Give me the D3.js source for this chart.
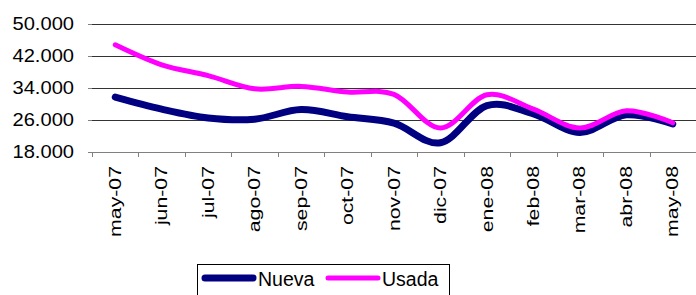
<!DOCTYPE html>
<html>
<head>
<meta charset="utf-8">
<script src="https://cdn.jsdelivr.net/npm/d3@7"></script>
<style>
  body { margin: 0; background: #fff; }
  text { font-family: "Liberation Sans", Arial, sans-serif; fill: #000; }
</style>
</head>
<body>
<svg id="chart" width="696" height="295"></svg>
<script>
// months on the x axis
var months = ["may-07", "jun-07", "jul-07", "ago-07", "sep-07", "oct-07", "nov-07",
              "dic-07", "ene-08", "feb-08", "mar-08", "abr-08", "may-08"];
// values
var nueva = [31700, 28700, 26500, 26200, 28600, 26800, 25200, 20300, 29600, 27500, 22900, 27300, 25000];
var usada = [44800, 39800, 37100, 33800, 34400, 33000, 32400, 24000, 32300, 28700, 24000, 28300, 25300];
var yTicks = [18000, 26000, 34000, 42000, 50000];

var svg = d3.select("#chart");
var plotLeft = 92, plotRight = 696, plotTop = 24, plotBottom = 152;

var x = d3.scaleBand().domain(months).range([plotLeft, plotRight]).padding(0);
var y = d3.scaleLinear().domain([18000, 50000]).range([plotBottom, plotTop]);

var fmt = function (v) { return d3.format(",")(v).replace(/,/g, "."); };

// gridlines + little left ticks
yTicks.forEach(function (t) {
    if (t > 18000) {
        svg.append("line")
            .attr("x1", plotLeft).attr("x2", plotRight)
            .attr("y1", Math.round(y(t)) + 0.5).attr("y2", Math.round(y(t)) + 0.5)
            .attr("stroke", "#333").attr("stroke-width", 1);
    }
    svg.append("line")
        .attr("x1", plotLeft - 4).attr("x2", plotLeft)
        .attr("y1", Math.round(y(t)) + 0.5).attr("y2", Math.round(y(t)) + 0.5)
        .attr("stroke", "#808080");
    svg.append("text")
        .attr("transform", "translate(74," + y(t) + ") scale(1.15,1)")
        .attr("text-anchor", "end")
        .attr("dy", "0.36em")
        .style("font-size", "17.5px")
        .text(fmt(t));
});

// x axis
svg.append("line")
    .attr("x1", plotLeft).attr("x2", plotRight)
    .attr("y1", plotBottom + 0.5).attr("y2", plotBottom + 0.5)
    .attr("stroke", "#808080");
months.forEach(function (m, i) {
    var bx = Math.round(x(m)) + 0.5;
    svg.append("line")
        .attr("x1", bx).attr("x2", bx)
        .attr("y1", plotBottom).attr("y2", plotBottom + 5)
        .attr("stroke", "#808080");
    svg.append("text")
        .attr("transform", "translate(" + (x(m) + x.bandwidth() / 2) + "," + (plotBottom + 14) + ") rotate(-90) scale(1.33,1)")
        .attr("text-anchor", "end")
        .attr("dy", "0.35em")
        .style("font-size", "16px")
        .text(m);
});

// lines
var line = d3.line()
    .x(function (d, i) { return x(months[i]) + x.bandwidth() / 2; })
    .y(function (d) { return y(d); })
    .curve(d3.curveCardinal.tension(0));

svg.append("path")
    .datum(nueva)
    .attr("d", line)
    .attr("fill", "none")
    .attr("stroke", "#000080")
    .attr("stroke-width", 7)
    .attr("stroke-linecap", "round");

svg.append("path")
    .datum(usada)
    .attr("d", line)
    .attr("fill", "none")
    .attr("stroke", "#ff00ff")
    .attr("stroke-width", 5)
    .attr("stroke-linecap", "round");

// legend
var lg = svg.append("g");
lg.append("rect")
    .attr("x", 197.5).attr("y", 264.5).attr("width", 252).attr("height", 40)
    .attr("fill", "#fff").attr("stroke", "#000");
lg.append("line").attr("x1", 205).attr("x2", 253).attr("y1", 278).attr("y2", 278)
    .attr("stroke", "#000080").attr("stroke-width", 7).attr("stroke-linecap", "round");
lg.append("text").attr("x", 258).attr("y", 286).style("font-size", "19.5px").text("Nueva");
lg.append("line").attr("x1", 328).attr("x2", 378).attr("y1", 278).attr("y2", 278)
    .attr("stroke", "#ff00ff").attr("stroke-width", 5).attr("stroke-linecap", "round");
lg.append("text").attr("x", 382).attr("y", 286).style("font-size", "19.5px").text("Usada");
</script>
</body>
</html>
